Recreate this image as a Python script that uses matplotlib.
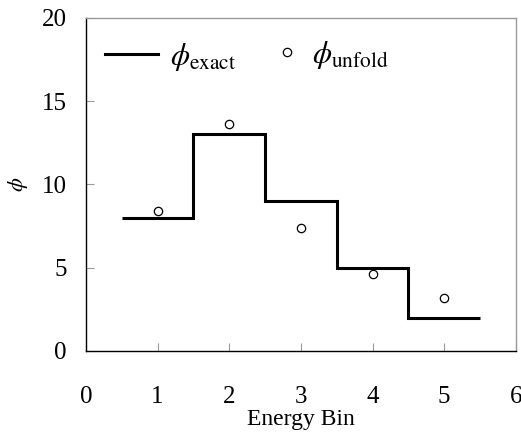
import matplotlib.pyplot as plt
from matplotlib.lines import Line2D

plt.rcParams["font.family"] = ["Liberation Serif", "DejaVu Serif"]
plt.rcParams["mathtext.fontset"] = "stix"

# bin edges and exact flux per bin
bin_edges = [0.5, 1.5, 2.5, 3.5, 4.5, 5.5]
phi_exact = [8, 13, 9, 5, 2]

# unfolded flux at bin centres
bins = [1, 2, 3, 4, 5]
phi_unfold = [8.4, 13.6, 7.4, 4.6, 3.2]

x_ticks = [0, 1, 2, 3, 4, 5, 6]
y_ticks = [0, 5, 10, 15, 20]

GREY = "#9a9a9a"


def main():
    fig = plt.figure(figsize=(5.21, 4.38), dpi=100)
    ax = fig.add_axes([0.165, 0.199, 0.825, 0.760])

    ax.stairs(phi_exact, bin_edges, color="black", linewidth=2.2,
              baseline=None)
    unfold_pts, = ax.plot(bins, phi_unfold, linestyle="none", marker="o",
                          markersize=6, markerfacecolor="white",
                          markeredgecolor="black", markeredgewidth=0.9)

    ax.set_xlim(0, 6)
    ax.set_ylim(0, 20)
    ax.set_xticks(x_ticks)
    ax.set_yticks(y_ticks)
    ax.tick_params(axis="both", direction="in", length=6, width=0.8,
                   color=GREY, labelsize=18)
    ax.tick_params(axis="x", pad=25)
    ax.tick_params(axis="y", pad=14)

    for side in ("left", "bottom"):
        ax.spines[side].set_color("black")
        ax.spines[side].set_linewidth(1.0)
    for side in ("top", "right"):
        ax.spines[side].set_color(GREY)
        ax.spines[side].set_linewidth(1.0)

    ax.set_xlabel("Energy Bin", fontsize=17, labelpad=1)
    ax.set_ylabel(r"$\phi$", fontsize=16, labelpad=8)

    # legend split in two so each entry sits where the original has it
    line_handle = Line2D([], [], color="black", linewidth=2.2)
    leg1 = ax.legend([line_handle], [r"$\phi_{\mathrm{exact}}$"],
                     loc="upper left", bbox_to_anchor=(0.044, 0.931),
                     frameon=False, fontsize=22, handlelength=1.73,
                     handletextpad=0.4, borderpad=0, borderaxespad=0)
    ax.add_artist(leg1)
    ax.legend([unfold_pts], [r"$\phi_{\mathrm{unfold}}$"],
              loc="upper left", bbox_to_anchor=(0.439, 0.937),
              frameon=False, fontsize=22, handlelength=0.8,
              handletextpad=0.42, borderpad=0, borderaxespad=0)

    fig.savefig("out.png", dpi=100)
    plt.close(fig)


if __name__ == "__main__":
    main()
